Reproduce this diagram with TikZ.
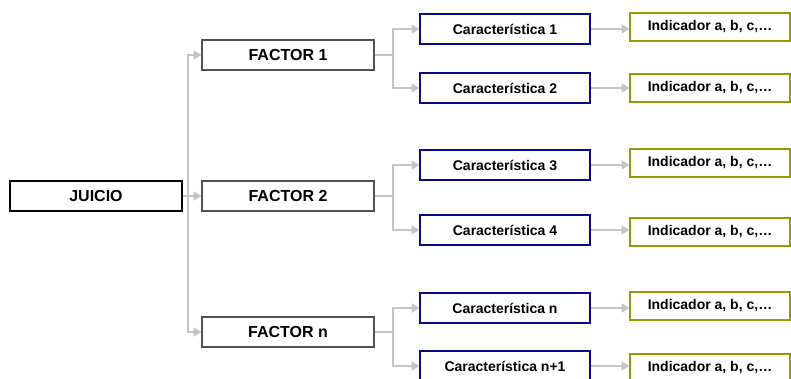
\documentclass[tikz,border=0pt]{standalone}
\usepackage{fontspec}
\setmainfont{Liberation Sans}
\usetikzlibrary{arrows.meta}
\definecolor{linkgray}{HTML}{C4C4C4}
\definecolor{factorgray}{HTML}{505050}
\definecolor{carnavy}{HTML}{0A0A80}
\definecolor{indolive}{HTML}{9A9A00}
\tikzset{
  box/.style={draw, line width=2pt, fill=white, inner sep=0pt, align=center,
    font=\bfseries\fontsize{14}{16}\selectfont},
  rootbox/.style={box, draw=black, minimum width=172pt, minimum height=30pt,
    font=\bfseries\fontsize{16}{18}\selectfont},
  factorbox/.style={box, draw=factorgray, minimum width=172pt, minimum height=30pt,
    font=\bfseries\fontsize{16}{18}\selectfont},
  carbox/.style={box, draw=carnavy, minimum width=170pt, minimum height=30pt},
  indbox/.style={box, draw=indolive, minimum width=160pt, minimum height=28pt},
  link/.style={draw=linkgray, line width=2pt},
  arr/.style={link, -{Triangle[length=8pt,width=9pt]}, shorten >=-0.5pt},
}
\begin{document}
\begin{tikzpicture}[x=1pt, y=-1pt]
\useasboundingbox (0,0) rectangle (791,378);

% branching columns
\coordinate (trunk) at (188,0);
\coordinate (fork) at (393,0);

% root and factors
\node[rootbox] (juicio) at (96,196) {JUICIO};
\node[factorbox] (f1) at (288,55) {FACTOR 1};
\node[factorbox] (f2) at (288,196) {FACTOR 2};
\node[factorbox] (fn) at (288,332) {FACTOR n};

% characteristics
\node[carbox] (c1) at (505,29) {Característica 1};
\node[carbox] (c2) at (505,88) {Característica 2};
\node[carbox] (c3) at (505,165) {Característica 3};
\node[carbox] (c4) at (505,230) {Característica 4};
\node[carbox] (cn) at (505,308) {Característica n};
\node[carbox] (cn1) at (505,366) {Característica n+1};

% indicators
\node[indbox] (i1) at (710,27) {Indicador a, b, c,…};
\node[indbox] (i2) at (710,88) {Indicador a, b, c,…};
\node[indbox] (i3) at (710,163) {Indicador a, b, c,…};
\node[indbox] (i4) at (710,232) {Indicador a, b, c,…};
\node[indbox] (in) at (710,306) {Indicador a, b, c,…};
\node[indbox] (in1) at (710,368) {Indicador a, b, c,…};

% root to factors
\draw[arr] (juicio.east) -- (f2.west);
\draw[arr] (trunk |- juicio.east) |- (f1.west);
\draw[arr] (trunk |- juicio.east) |- (fn.west);

% factors to characteristics
\foreach \f/\a/\b in {f1/c1/c2, f2/c3/c4, fn/cn/cn1}{
  \draw[link] (\f.east) -- (fork |- \f.east);
  \draw[arr] (fork |- \f.east) |- (\a.west);
  \draw[arr] (fork |- \f.east) |- (\b.west);
}

% characteristics to indicators
\foreach \c/\i in {c1/i1, c2/i2, c3/i3, c4/i4, cn/in, cn1/in1}{
  \draw[arr] (\c.east) -- (\c.east -| \i.west);
}
\end{tikzpicture}
\end{document}
